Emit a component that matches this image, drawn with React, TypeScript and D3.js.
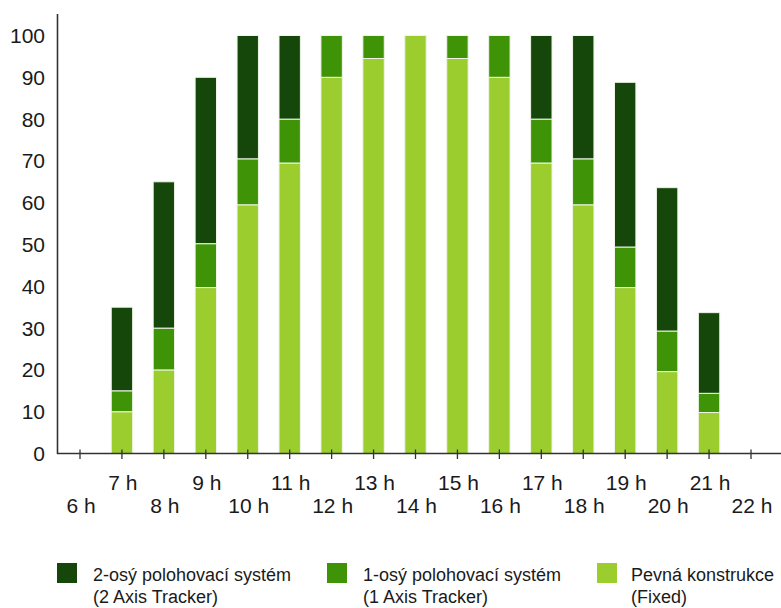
import React from "react";
import * as d3 from "d3";

const hours = ["6 h","7 h","8 h","9 h","10 h","11 h","12 h","13 h","14 h","15 h","16 h","17 h","18 h","19 h","20 h","21 h","22 h"];
// cumulative tops of each stacked segment
const fixedTop =   [0, 10, 20, 39.7, 59.5, 69.5, 90, 94.5, 100, 94.5, 90, 69.5, 59.5, 39.7, 19.6, 9.8, 0];
const oneAxisTop = [0, 15, 30, 50.2, 70.5, 80, 100, 100, 100, 100, 100, 80, 70.5, 49.4, 29.3, 14.4, 0];
const twoAxisTop = [0, 35, 65, 90, 100, 100, 100, 100, 100, 100, 100, 100, 100, 88.8, 63.6, 33.7, 0];
const yTicks = [0, 10, 20, 30, 40, 50, 60, 70, 80, 90, 100];

const legendItems = [
  { l1: "2-osý polohovací systém", l2: "(2 Axis Tracker)", color: "#16470a" },
  { l1: "1-osý polohovací systém", l2: "(1 Axis Tracker)", color: "#3f9307" },
  { l1: "Pevná konstrukce", l2: "(Fixed)", color: "#9bcd2f" },
];

export default function App() {
  const W = 781, H = 608;
  const x = d3.scalePoint<string>().domain(hours).range([80, 751]);
  const y = d3.scaleLinear().domain([0, 100]).range([453.5, 35.5]);
  const bw = x.step() * 0.51;
  const font = "'Liberation Sans', Arial, Helvetica, sans-serif";

  const segs: { i: number; lo: number; hi: number; color: string }[] = [];
  hours.forEach((_, i) => {
    const tops = [fixedTop[i], oneAxisTop[i], twoAxisTop[i]];
    const colors = ["#9bcd2f", "#3f9307", "#16470a"];
    let prev = 0;
    tops.forEach((t, k) => {
      if (t > prev) segs.push({ i, lo: prev, hi: t, color: colors[k] });
      prev = Math.max(prev, t);
    });
  });

  const legendX = [57, 327, 597];
  const legendTextX = [93, 363, 631];

  return (
    <svg width={W} height={H} style={{ position: "absolute", left: 0, top: 0, background: "#fff" }}>
      {segs.map((s, j) => (
        <rect key={j} x={(x(hours[s.i]) as number) - bw / 2} y={y(s.hi)} width={bw} height={y(s.lo) - y(s.hi)}
          fill={s.color} stroke="#eef4e6" strokeWidth={1} />
      ))}
      {/* axes */}
      <line x1={57.5} x2={57.5} y1={14} y2={454} stroke="#333" strokeWidth={1.6} />
      <line x1={57} x2={781} y1={453.5} y2={453.5} stroke="#333" strokeWidth={1.6} />
      {hours.map((h, i) => (
        <g key={h}>
          <line x1={x(h)} x2={x(h)} y1={449.5} y2={459} stroke="#333" strokeWidth={1.3} />
          <text x={(x(h) as number) + 1} y={i % 2 === 1 ? 490 : 512.5} textAnchor="middle" fontFamily={font} fontSize={21} fill="#1a1a1a">{h}</text>
        </g>
      ))}
      {yTicks.map((t) => (
        <text key={t} x={45} y={y(t)} dy="0.36em" textAnchor="end" fontFamily={font} fontSize={21} fill="#1a1a1a">{t}</text>
      ))}
      {legendItems.map((it, k) => (
        <g key={k}>
          <rect x={legendX[k]} y={563} width={20} height={20} fill={it.color} />
          <text x={legendTextX[k]} y={581} fontFamily={font} fontSize={18} fill="#1a1a1a">{it.l1}</text>
          <text x={legendTextX[k]} y={603} fontFamily={font} fontSize={18} fill="#1a1a1a">{it.l2}</text>
        </g>
      ))}
    </svg>
  );
}
